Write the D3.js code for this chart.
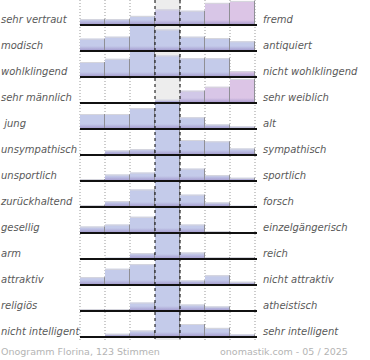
<!DOCTYPE html>
<html lang="de">
<head>
<meta charset="UTF-8" />
<title>Onogramm Florina</title>
<script src="https://d3js.org/d3.v7.min.js"></script>
<style>
  body { margin: 0; background: #fff; }
  svg { display: block; font-family: "DejaVu Sans", sans-serif; }
  .lbl { font-size: 10px; font-style: italic; fill: #595959; }
  .foot { font-size: 9.5px; fill: #b4b4b4; }
</style>
</head>
<body>
<svg width="370" height="360"></svg>
<script>
// left and right poles of each row
const leftLabels = ["sehr vertraut", "modisch", "wohlklingend", "sehr männlich", " jung",
  "unsympathisch", "unsportlich", "zurückhaltend", "gesellig", "arm", "attraktiv",
  "religiös", "nicht intelligent"];
const rightLabels = ["fremd", "antiquiert", "nicht wohlklingend", "sehr weiblich", "alt",
  "sympathisch", "sportlich", "forsch", "einzelgängerisch", "reich", "nicht attraktiv",
  "atheistisch", "sehr intelligent"];
const columns = [1, 2, 3, 4, 5, 6, 7];
// share of votes per column (percent), one list per row
const votes = [
  [9, 9, 14, 24, 22, 34, 37],
  [19, 22, 40, 33, 22, 20, 15],
  [23, 28, 42, 33, 29, 29, 9],
  [0, 0, 0, 5, 19, 25, 37],
  [23, 23, 32, 45, 18, 7, 4],
  [0, 7, 9, 50, 23, 21, 10],
  [3, 10, 13, 48, 19, 9, 5],
  [3, 9, 27, 45, 19, 7, 2],
  [10, 13, 25, 48, 13, 3, 1],
  [0, 2, 9, 60, 10, 3, 3],
  [12, 25, 32, 40, 7, 15, 5],
  [3, 3, 13, 55, 10, 7, 0],
  [0, 5, 10, 50, 20, 14, 4]
];
// pink tint of some bars: [row, column, tint]
const tints = [[0, 3, 0.35], [0, 4, 0.2], [0, 5, 0.85], [0, 6, 1],
  [2, 6, 1], [3, 4, 0.55], [3, 5, 0.85], [3, 6, 1]];
const footLeft = "Onogramm Florina, 123 Stimmen";
const footRight = "onomastik.com - 05 / 2025";

const svg = d3.select("svg");
const rows = d3.range(leftLabels.length);

const x = d3.scaleBand().domain(columns).range([80, 255]).padding(0);
const y = d3.scaleBand().domain(rows).range([-1, 337]).padding(0);
const h = d3.scaleLinear().domain([0, 40]).range([0, y.bandwidth()]).clamp(true);
const tint = d3.scaleLinear().domain([0, 1]).range(["#c4cbea", "#dcc5e6"]);

const tintOf = (r, c) => {
  const t = tints.find(d => d[0] === r && d[1] === c);
  return t ? t[2] : 0;
};

// bottom shading of the bars
const defs = svg.append("defs");
const grad = defs.append("linearGradient").attr("id", "shade")
  .attr("x1", 0).attr("y1", 0).attr("x2", 0).attr("y2", 1);
grad.append("stop").attr("offset", "0%").attr("stop-color", "#9d90c8").attr("stop-opacity", 0);
grad.append("stop").attr("offset", "100%").attr("stop-color", "#9d90c8").attr("stop-opacity", 0.9);

// grey middle column
svg.append("rect")
  .attr("x", x(4)).attr("y", 0)
  .attr("width", x.bandwidth()).attr("height", 340)
  .attr("fill", "#ededed");

// dotted grid
svg.append("g").selectAll("line")
  .data([1, 2, 3, 5, 6, 7, 8])
  .join("line")
  .attr("x1", d => d <= 7 ? x(d) : x(7) + x.bandwidth())
  .attr("x2", d => d <= 7 ? x(d) : x(7) + x.bandwidth())
  .attr("y1", 0).attr("y2", 340)
  .attr("stroke", "#999").attr("stroke-dasharray", "1,2");

// bars
const cells = rows.flatMap(r => columns.map((c, i) => ({ r, c, v: votes[r][i], t: tintOf(r, i) })))
  .filter(d => d.v > 0);
const base = r => y(r) + y.bandwidth();

const bars = svg.append("g").selectAll("g").data(cells).join("g");
bars.append("rect")
  .attr("x", d => x(d.c)).attr("y", d => base(d.r) - h(d.v))
  .attr("width", x.bandwidth()).attr("height", d => h(d.v))
  .attr("fill", d => tint(d.t));
bars.append("rect")
  .attr("x", d => x(d.c)).attr("y", d => base(d.r) - Math.min(h(d.v), 5))
  .attr("width", x.bandwidth()).attr("height", d => Math.min(h(d.v), 5))
  .attr("fill", "url(#shade)");
bars.append("line")
  .attr("x1", d => x(d.c)).attr("x2", d => x(d.c) + x.bandwidth())
  .attr("y1", d => base(d.r) - h(d.v) + 0.5).attr("y2", d => base(d.r) - h(d.v) + 0.5)
  .attr("stroke", "#d6d6dc");
bars.append("line")
  .attr("x1", d => x(d.c) + x.bandwidth() - 0.5).attr("x2", d => x(d.c) + x.bandwidth() - 0.5)
  .attr("y1", d => base(d.r) - h(d.v)).attr("y2", d => base(d.r))
  .attr("stroke", "#8f8f95");

// dashed borders of the middle column
svg.append("g").selectAll("line")
  .data([x(4), x(4) + x.bandwidth()])
  .join("line")
  .attr("x1", d => d).attr("x2", d => d)
  .attr("y1", 0).attr("y2", 340)
  .attr("stroke", "#000").attr("stroke-dasharray", "3,3");

// baselines
svg.append("g").selectAll("line")
  .data(rows)
  .join("line")
  .attr("x1", 80).attr("x2", 257)
  .attr("y1", r => base(r)).attr("y2", r => base(r))
  .attr("stroke", "#111").attr("stroke-width", 2);

// labels
svg.append("g").selectAll("text")
  .data(rows)
  .join("text")
  .attr("class", "lbl")
  .attr("x", 1).attr("y", r => base(r) - 2)
  .attr("xml:space", "preserve")
  .text(r => leftLabels[r]);
svg.append("g").selectAll("text")
  .data(rows)
  .join("text")
  .attr("class", "lbl")
  .attr("x", 263).attr("y", r => base(r) - 2)
  .text(r => rightLabels[r]);

svg.append("text").attr("class", "foot").attr("x", 1).attr("y", 355).text(footLeft);
svg.append("text").attr("class", "foot").attr("x", 220).attr("y", 355).text(footRight);
</script>
</body>
</html>
